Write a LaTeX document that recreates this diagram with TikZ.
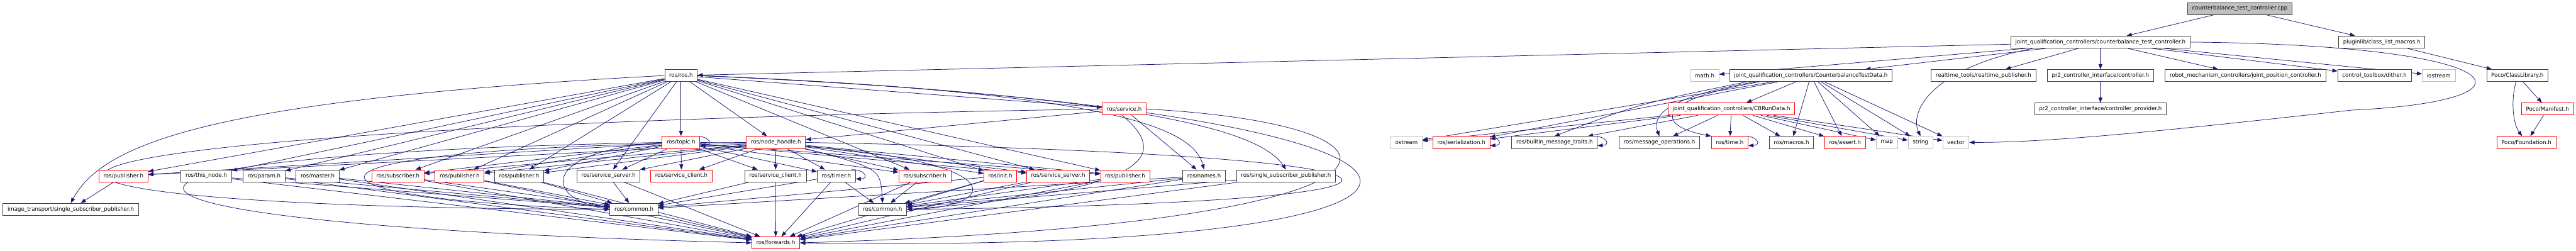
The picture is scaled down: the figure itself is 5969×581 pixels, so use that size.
\documentclass[tikz,border=0pt]{standalone}
\usepackage{fontspec}
\setmainfont{DejaVu Sans}
\usepackage{tikz}
\usetikzlibrary{arrows.meta,backgrounds}
\definecolor{edgeblue}{HTML}{191970}
\definecolor{extgray}{HTML}{BFBFBF}
\definecolor{boxgray}{HTML}{404040}

\begin{document}
\begin{tikzpicture}[
    x=1pt, y=-1pt,
    hdr/.style={
        draw=boxgray,
        fill=white,
        line width=1.2pt,
        minimum height=28pt,
        inner xsep=10.5pt,
        inner ysep=0pt,
        font=\fontsize{12.6}{15}\selectfont
    },
    hdrtrunc/.style={hdr, draw=red},
    hdrext/.style={hdr, draw=extgray},
    hdrroot/.style={hdr, fill=extgray},
    inc/.style={
        -{Triangle[length=12pt,width=9pt]},
        draw=edgeblue,
        line width=1.1pt
    }
]

\useasboundingbox (0,0) rectangle (5969,581);

% ---------------- RANG 0-1 ----------------

\node[hdrroot] (cpp) at (5190,20) {counterbalance\_test\_controller.cpp};

\node[hdr] (ctc) at (4867,97.5)
    {joint\_qualification\_controllers/counterbalance\_test\_controller.h};
\node[hdr] (plugin) at (5519,97.5) {pluginlib/class\_list\_macros.h};

% ---------------- RANG 2 ----------------

\node[hdr] (ros) at (1578,175) {ros/ros.h};
\node[hdrext] (mathh) at (3950,175) {math.h};
\node[hdr] (ctd) at (4196,175)
    {joint\_qualification\_controllers/CounterbalanceTestData.h};
\node[hdr] (rtpub) at (4596,175) {realtime\_tools/realtime\_publisher.h};
\node[hdr] (ctrl) at (4867,175) {pr2\_controller\_interface/controller.h};
\node[hdr] (jpc) at (5203,175)
    {robot\_mechanism\_controllers/joint\_position\_controller.h};
\node[hdr] (dither) at (5502,175) {control\_toolbox/dither.h};
\node[hdrext] (iostr) at (5651,175) {iostream};
\node[hdr] (pclass) at (5833,175) {Poco/ClassLibrary.h};

% ---------------- RANG 3 ----------------

\node[hdrtrunc] (srv) at (2605,252.5) {ros/service.h};
\node[hdrtrunc] (cbrun) at (4012,252.5)
    {joint\_qualification\_controllers/CBRunData.h};
\node[hdr] (cprov) at (4867,252.5)
    {pr2\_controller\_interface/controller\_provider.h};
\node[hdrtrunc] (pmani) at (5903,252.5) {Poco/Manifest.h};

% ---------------- RANG 4 ----------------

\node[hdrtrunc] (topic) at (1578,330) {ros/topic.h};
\node[hdrtrunc] (nh) at (1798,330) {ros/node\_handle.h};
\node[hdrext] (ostr) at (3259,330) {ostream};
\node[hdrtrunc] (ser) at (3386,330) {ros/serialization.h};
\node[hdr] (bmt) at (3602,330) {ros/builtin\_message\_traits.h};
\node[hdr] (mops) at (3845,330) {ros/message\_operations.h};
\node[hdrtrunc] (timeh) at (4008,330) {ros/time.h};
\node[hdr] (macros) at (4151,330) {ros/macros.h};
\node[hdrtrunc] (assrt) at (4275,330) {ros/assert.h};
\node[hdrext] (mapn) at (4372,330) {map};
\node[hdrext] (strn) at (4450,330) {string};
\node[hdrext] (vect) at (4532,330) {vector};
\node[hdrtrunc] (pfound) at (5854,330) {Poco/Foundation.h};

% ---------------- RANG 5 ----------------

\node[hdrtrunc] (pub1) at (286,407.5) {ros/publisher.h};
\node[hdr] (thisnode) at (478,407.5) {ros/this\_node.h};
\node[hdr] (param) at (612,407.5) {ros/param.h};
\node[hdr] (master) at (736,407.5) {ros/master.h};
\node[hdrtrunc] (sub1) at (922,407.5) {ros/subscriber.h};
\node[hdrtrunc] (pub2) at (1065,407.5) {ros/publisher.h};
\node[hdr] (pub3) at (1203,407.5) {ros/publisher.h};
\node[hdr] (ssrv1) at (1410,407.5) {ros/service\_server.h};
\node[hdrtrunc] (scli1) at (1579,407.5) {ros/service\_client.h};
\node[hdr] (scli2) at (1797,407.5) {ros/service\_client.h};
\node[hdr] (timer) at (1938,407.5) {ros/timer.h};
\node[hdrtrunc] (sub2) at (2143,407.5) {ros/subscriber.h};
\node[hdrtrunc] (init) at (2318,407.5) {ros/init.h};
\node[hdrtrunc] (ssrv2) at (2452,407.5) {ros/service\_server.h};
\node[hdrtrunc] (pub4) at (2607,407.5) {ros/publisher.h};
\node[hdr] (names) at (2790,407.5) {ros/names.h};
\node[hdr] (sspub) at (2980,407.5) {ros/single\_subscriber\_publisher.h};

% ---------------- RANG 6-7 ----------------

\node[hdr] (itss) at (164,485)
    {image\_transport/single\_subscriber\_publisher.h};
\node[hdr] (common1) at (1469,485) {ros/common.h};
\node[hdr] (common2) at (2045,485) {ros/common.h};
\node[hdrtrunc] (fwd) at (1797.5,562.5) {ros/forwards.h};

\begin{scope}[on background layer]

% ---------------- CONTROLADOR ----------------

\path (cpp) edge[inc] (ctc) edge[inc] (plugin);
\path (plugin) edge[inc] (pclass);
\path (pclass) edge[inc] (pmani);
\path (pmani) edge[inc] (pfound);
\draw[inc] ([xshift=-3pt]pclass.south) .. controls (5818,230) and (5822,285)
    .. ([xshift=-10pt]pfound.north);

\path (ctc) edge[inc] (ros) edge[inc] (mathh) edge[inc] (ctd)
    edge[inc] (rtpub) edge[inc] (ctrl) edge[inc] (jpc)
    edge[inc] (dither) edge[inc] (iostr);
\path (ctrl) edge[inc] (cprov);
\draw[inc] ([xshift=52pt]ctc.south west) .. controls (4470,160) and (4425,260)
    .. (strn.north);
\draw[inc] (ctc.east) .. controls (5850,105) and (5900,235) .. (5450,255)
    .. controls (5000,305) and (4750,330) .. (vect.east);

% ---------------- DADES ----------------

\path (ctd) edge[inc] (cbrun) edge[inc] (ostr) edge[inc] (ser)
    edge[inc] (macros) edge[inc] (assrt) edge[inc] (mapn)
    edge[inc] (strn) edge[inc] (vect);
\draw[inc] ([xshift=40pt]ctd.south west) .. controls (3800,240) .. (bmt.north);
\draw[inc] ([xshift=60pt]ctd.south west) .. controls (3830,230) and (3832,280)
    .. (mops.north);
\draw[inc] ([xshift=70pt]ctd.south west) .. controls (3840,230) and (3830,290)
    .. (timeh.north west);

\path (cbrun) edge[inc] (ostr) edge[inc] (ser) edge[inc] (bmt)
    edge[inc] (mops) edge[inc] (timeh) edge[inc] (macros)
    edge[inc] (assrt) edge[inc] (mapn) edge[inc] (strn) edge[inc] (vect);

\draw[inc] ([xshift=-10pt]ser.north east) .. controls +(34,0) and +(30,0)
    .. ([yshift=-7pt]ser.east);
\draw[inc] ([xshift=-10pt]bmt.north east) .. controls +(34,0) and +(30,0)
    .. ([yshift=-7pt]bmt.east);
\draw[inc] ([xshift=-10pt]timeh.north east) .. controls +(34,0) and +(30,0)
    .. ([yshift=-7pt]timeh.east);

% ---------------- ROS ----------------

\path (ros) edge[inc] (topic) edge[inc] (nh) edge[inc] (srv)
    edge[inc] (pub1) edge[inc] (thisnode) edge[inc] (param)
    edge[inc] (master) edge[inc] (sub1) edge[inc] (pub2)
    edge[inc] (pub3) edge[inc] (ssrv1) edge[inc] (sub2)
    edge[inc] (init) edge[inc] (ssrv2) edge[inc] (pub4);
\draw[inc] (ros.west) .. controls (500,230) and (240,330) .. (itss.north);
\draw[inc] (ros.east) .. controls (2600,215) and (2765,300) .. (names.north);
\draw[inc] (ros.east) .. controls (2750,225) and (2930,320) .. (sspub.north);
\draw[inc] (ros.east) .. controls (3620,260) and (3620,590) .. (fwd.east);

\path (srv) edge[inc] (nh) edge[inc] (names);
\draw[inc] ([xshift=-5pt]srv.south) .. controls (2700,350) and (2700,440)
    .. (common2.east);
\draw[inc] (srv.east) .. controls (3350,290) and (3350,520) .. (fwd.east);
\draw[inc] (srv.west) .. controls (-300,300) and (-300,480) .. (common1.west);

\path (topic) edge[inc] (pub1) edge[inc] (sub1) edge[inc] (pub2)
    edge[inc] (pub3) edge[inc] (ssrv1) edge[inc] (scli1)
    edge[inc] (scli2) edge[inc] (timer) edge[inc] (sub2)
    edge[inc] (ssrv2) edge[inc] (pub4);
\draw[inc] ([xshift=-10pt]topic.north east) .. controls +(34,0) and +(30,0)
    .. ([yshift=-7pt]topic.east);
\draw[inc] (topic.west) .. controls (1250,350) and (1260,460) .. (common1.west);
\draw[inc] (topic.west) .. controls (0,360) and (50,520) .. (fwd.west);
\draw[inc] (topic.east) .. controls (2350,340) and (2350,480) .. (common2.east);

\path (nh) edge[inc] (pub1) edge[inc] (sub1) edge[inc] (pub2)
    edge[inc] (pub3) edge[inc] (ssrv1) edge[inc] (scli1)
    edge[inc] (scli2) edge[inc] (timer) edge[inc] (sub2)
    edge[inc] (init) edge[inc] (ssrv2) edge[inc] (pub4);
\draw[inc] (nh.west) .. controls (600,340) and (620,460) .. (common1.west);
\draw[inc] (nh.south east) .. controls (2040,390) .. (common2.north);
\draw[inc] (nh.east) .. controls (3480,360) and (3480,470) .. (common2.east);

% ---------------- COMUNS ----------------

\path (pub1) edge[inc] (itss);
\path (thisnode) edge[inc] (common1) edge[inc] (fwd);
\path (param) edge[inc] (common1) edge[inc] (fwd);
\path (master) edge[inc] (common1) edge[inc] (fwd);
\path (sub1) edge[inc] (common1) edge[inc] (fwd);
\path (pub2) edge[inc] (common1) edge[inc] (fwd);
\path (pub3) edge[inc] (common1) edge[inc] (fwd);
\path (ssrv1) edge[inc] (common1) edge[inc] (fwd);
\path (scli2) edge[inc] (common1) edge[inc] (fwd);
\path (timer) edge[inc] (common1) edge[inc] (common2) edge[inc] (fwd);
\draw[inc] ([xshift=-10pt]timer.north east) .. controls +(34,0) and +(30,0)
    .. ([yshift=-7pt]timer.east);
\path (sub2) edge[inc] (common2) edge[inc] (fwd);
\path (init) edge[inc] (common1) edge[inc] (common2) edge[inc] (fwd);
\path (ssrv2) edge[inc] (common2) edge[inc] (fwd);
\path (pub4) edge[inc] (common2) edge[inc] (fwd);
\path (names) edge[inc] (common1) edge[inc] (common2) edge[inc] (fwd);
\path (sspub) edge[inc] (common2) edge[inc] (fwd);
\path (common1) edge[inc] (fwd);

\end{scope}

\end{tikzpicture}
\end{document}
